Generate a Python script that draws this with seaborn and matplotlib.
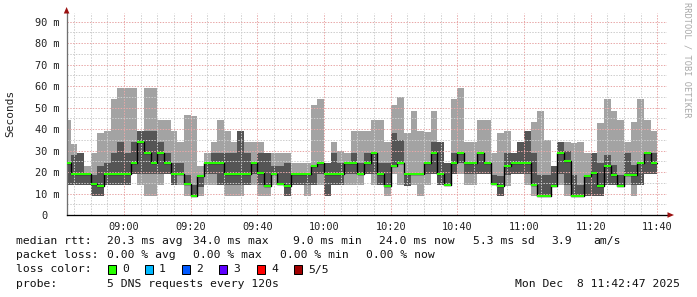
import matplotlib
matplotlib.use("Agg")
import matplotlib.pyplot as plt
import matplotlib.transforms as mtransforms
from matplotlib.patches import Rectangle, Polygon
import seaborn as sns
import numpy as np
import pandas as pd

# ---- data: 5 sorted DNS pings per 2-minute step (ms), steps ending 08:44 .. 11:40 ----
rtt_min = [14, 14, 14, 14, 9, 9, 14, 14, 14, 14, 19, 14, 9, 9, 14, 19, 14, 14, 9, 9,
           9, 14, 14, 14, 9, 9, 9, 14, 14, 9, 9, 14, 14, 9, 14, 14, 9, 14, 14, 9,
           14, 14, 14, 14, 14, 19, 14, 14, 9, 19, 14, 13.5, 14, 9, 14, 19, 14, 14, 19, 19,
           14, 14, 19, 19, 14, 9, 13.4, 19, 19, 14, 9, 9, 9, 13.4, 14, 9, 9, 9, 9, 9,
           9, 14, 14, 13.4, 14, 9, 14, 19, 19]
rtt_q1 = [14, 14, 14, 14, 9, 9, 14, 14, 14, 14, 19, 19, 19, 19, 19, 19, 14, 19, 14, 9,
          13, 19, 19, 14, 14, 14, 14, 14, 19, 14, 13.5, 19, 14, 9, 14, 14, 14, 14, 19, 9,
          14, 14, 19, 19, 19, 19, 19, 14, 13.4, 23, 24, 13.5, 19, 19, 19, 19, 14, 14, 19, 24,
          19, 19, 19, 19, 14, 9, 18.5, 19, 19, 19, 14, 9, 9, 13.4, 19, 14, 9, 9, 9, 9,
          9, 14, 14, 13.4, 18.5, 14, 14, 19, 19]
rtt_median = [24, 19, 19, 19, 14.5, 13.5, 19, 19, 19, 19, 24, 34, 29, 24, 29, 24, 19, 19, 14.5, 9,
              18, 24, 24, 24, 19, 19, 19, 19, 24, 19.5, 13.5, 19, 14.3, 13.4, 19, 19, 19, 23, 24, 19,
              19, 19, 24, 24, 19, 24, 29, 19, 13.4, 23, 24, 19, 19, 19, 24, 29, 19, 14, 24, 29,
              24, 24, 29, 24, 14.5, 13.4, 23, 24, 24, 24, 14, 9, 9, 13.4, 29, 25, 9, 9, 18, 19.5,
              13.4, 23, 18.5, 13.4, 18.5, 18.5, 24, 29, 24]
rtt_q3 = [24, 28, 29, 19, 18.5, 23, 24, 29, 34, 29, 34, 39, 39, 39, 34, 29, 24, 24, 18.5, 14,
          18, 24, 29, 29, 29, 29, 39, 29, 24, 29, 29, 23, 23, 24, 19, 19, 19, 23, 24, 24,
          29, 24, 24, 29, 24, 29, 29, 24, 24, 38, 35, 19, 19, 19, 24, 34, 34, 24, 29, 29,
          24, 24, 29, 24, 18.5, 18, 29, 29, 34, 39, 29, 18.5, 18.5, 23, 34, 29.7, 18.5, 14, 18.5, 29,
          24, 27.7, 23.5, 18.5, 29, 23.5, 24, 29, 29]
rtt_max = [44, 33, 29, 23, 29, 38, 39, 54, 59, 59, 59, 39, 59, 59, 44, 44, 39, 34, 46.5, 46,
           23, 29, 34, 44, 39, 34, 39, 34, 34, 34, 29, 29, 29, 29, 24, 24, 24, 51, 54, 24,
           34, 30, 29, 39, 39, 39, 44, 44, 34, 51, 55, 38, 48.5, 39, 38.5, 48.5, 34, 24, 54, 59,
           34, 34, 44, 44, 29, 38, 39, 29, 34, 39, 43.5, 48.5, 35, 23, 34, 34, 33.4, 34, 29, 29,
           42.6, 54, 48.5, 44, 34, 43.4, 54, 44, 39]

step_end = pd.date_range("2025-12-08 08:44", "2025-12-08 11:40", freq="2min")
tick_times = pd.date_range("2025-12-08 09:00", "2025-12-08 11:40", freq="20min")
tick_labels = ["09:00", "09:20", "09:40", "10:00", "10:20", "10:40", "11:00", "11:20", "11:40"]
ytick_values = [0, 10, 20, 30, 40, 50, 60, 70, 80, 90]
ytick_labels = ["0", "10 m", "20 m", "30 m", "40 m", "50 m", "60 m", "70 m", "80 m", "90 m"]
view_start = pd.Timestamp("2025-12-08 08:42:47")
view_end = pd.Timestamp("2025-12-08 11:42:47")

legend_rows = [
    ("median rtt:", [("20.3 ms avg", 107), ("34.0 ms max", 193), ("9.0 ms min", 293),
                     ("24.0 ms now", 379), ("5.3 ms sd", 473), ("3.9", 551), ("am/s", 593)]),
    ("packet loss:", [("0.00 % avg", 107), ("0.00 % max", 193), ("0.00 % min", 280),
                      ("0.00 % now", 366)]),
]
loss_labels = ["0", "1", "2", "3", "4", "5/5"]
loss_colors = ["#26ff00", "#00b8ff", "#0059ff", "#5e00ff", "#ff0000", "#a00000"]
probe_text = "5 DNS requests every 120s"
stamp_text = "Mon Dec  8 11:42:47 2025"

# ---- helpers ----
midnight = pd.Timestamp("2025-12-08 00:00")
def to_min(t):
    return (pd.DatetimeIndex(t) - midnight).total_seconds().values / 60.0

ends = to_min(step_end)
edges = np.concatenate([[ends[0] - 2.0], ends])
def ext(v):
    v = np.asarray(v, float)
    return np.concatenate([v, [v[-1]]])

sns.set_theme(style="white")
MONO = "DejaVu Sans Mono"
plt.rcParams["font.family"] = [MONO, "DejaVu Sans"]

W, H = 697, 297
fig = plt.figure(figsize=(W / 100, H / 100), dpi=100, facecolor="white")
L, R, T, B = 66.6, 666.6, 13.0, 215.0
ax = fig.add_axes([L / W, 1 - B / H, (R - L) / W, (B - T) / H])
ax.set_facecolor("white")

x0, x1 = to_min([view_start])[0], to_min([view_end])[0]
ax.set_xlim(x0, x1)
ax.set_ylim(0, 94.0)

LIGHT, DARK = "#a3a3a3", "#555555"
ax.fill_between(edges, ext(rtt_min), ext(rtt_max), step="post", color=LIGHT, lw=0, zorder=1)
ax.fill_between(edges, ext(rtt_q1), ext(rtt_q3), step="post", color=DARK, lw=0, zorder=1.1)

# dotted grid (drawn over the smoke, like rrdtool)
px = 0.72
GRID, MGRID = "#cdcdcd", "#e8a8a8"
for m in np.arange(525, x1, 5):
    major = (m % 20 == 0)
    ax.axvline(m, color=MGRID if major else GRID, lw=px, ls=(0, (1.4, 1.4)), zorder=2)
for v in np.arange(5, 91, 5):
    major = (v % 10 == 0)
    ax.axhline(v, color=MGRID if major else GRID, lw=px, ls=(0, (1.4, 1.4)), zorder=2)

# median line: black step connectors + green level segments
med_df = pd.DataFrame({"t": edges, "rtt": ext(rtt_median)})
sns.lineplot(data=med_df, x="t", y="rtt", drawstyle="steps-post", color="black",
             lw=1.0, ax=ax, zorder=3, estimator=None)
ax.hlines(rtt_median, edges[:-1], edges[1:], colors=loss_colors[0], lw=1.5, zorder=4)

ax.set_xlabel("")
ax.set_ylabel("")
ax.set_xticks(to_min(tick_times), labels=tick_labels)
ax.set_xticks(np.arange(525, x1, 5), minor=True)
ax.set_yticks(ytick_values, labels=ytick_labels)
ax.set_yticks(np.arange(5, 91, 10), minor=True)
for lbl in ax.get_xticklabels() + ax.get_yticklabels():
    lbl.set_fontfamily(MONO)
    lbl.set_fontsize(7.4)
ax.tick_params(axis="x", which="major", direction="out", length=3 * px, width=px, pad=3.0, colors="black")
ax.tick_params(axis="x", which="minor", direction="out", length=2 * px, width=px, colors="black")
ax.tick_params(axis="y", which="major", direction="out", length=2 * px, width=px, pad=3.4, colors="#444444")
ax.tick_params(axis="y", which="minor", direction="out", length=2 * px, width=px, colors="#444444")
for lbl in ax.get_xticklabels() + ax.get_yticklabels():
    lbl.set_color("#222222")
# "0" label sits two character cells left of the others (rrdtool formatting)
zero_lbl = ax.get_yticklabels()[0]
zero_lbl.set_transform(zero_lbl.get_transform() +
                       mtransforms.ScaledTranslation(-12.7 / 100, 0, fig.dpi_scale_trans))

for s in ["top", "right"]:
    ax.spines[s].set_visible(False)
ax.spines["left"].set_color("#707070")
ax.spines["left"].set_linewidth(px * 1.3)
ax.spines["bottom"].set_color("black")
ax.spines["bottom"].set_linewidth(px * 1.3)

# axis arrows
def fxy(x, y):
    return (x / W, 1 - y / H)
fig.patches.append(Polygon([fxy(66.6, 7), fxy(63.8, 13.5), fxy(69.4, 13.5)], closed=True,
                           transform=fig.transFigure, facecolor="#9b1010", edgecolor="none"))
fig.patches.append(Polygon([fxy(674, 215), fxy(667.5, 212.2), fxy(667.5, 217.8)], closed=True,
                           transform=fig.transFigure, facecolor="#9b1010", edgecolor="none"))

# y label and watermark
fig.text(10 / W, 1 - 113 / H, "Seconds", rotation=90, ha="center", va="center",
         fontsize=8.0, family=MONO, color="#222222")
fig.text(687 / W, 1 - 60 / H, "RRDTOOL / TOBI OETIKER", rotation=270, ha="center", va="center",
         fontsize=6.2, family=MONO, color="#a8a8a8")

# legend block
FS = 8.2
def ptext(x, y, s, **kw):
    fig.text(x / W, 1 - y / H, s, va="center", ha=kw.pop("ha", "left"),
             fontsize=FS, family=MONO, color="#111111", **kw)

row_y = [241, 255.5, 269.5, 284]
for (head, items), y in zip(legend_rows, row_y[:2]):
    ptext(16, y, head)
    for s, xx in items:
        ptext(xx, y, s)

ptext(16, row_y[2], "loss color:")
box_x = [108, 144.5, 182, 219, 257, 293.5]
for lab, col, bx in zip(loss_labels, loss_colors, box_x):
    fig.patches.append(Rectangle(fxy(bx, row_y[2] + 4.2), 8.4 / W, 8.4 / H,
                                 transform=fig.transFigure, facecolor=col,
                                 edgecolor="black", lw=px))
    ptext(bx + 14.5, row_y[2], lab)

ptext(16, row_y[3], "probe:")
ptext(107, row_y[3], probe_text)
ptext(680, row_y[3], stamp_text, ha="right")

fig.savefig("out.png", dpi=100, facecolor="white")
